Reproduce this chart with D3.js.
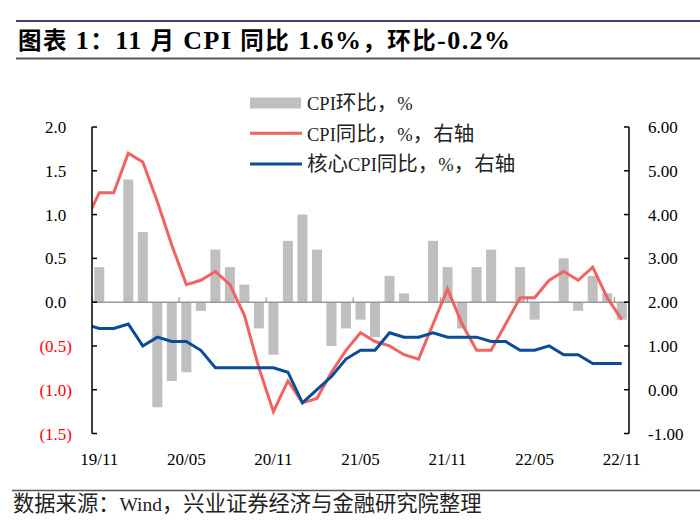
<!DOCTYPE html>
<html><head><meta charset="utf-8">
<script src="https://cdn.jsdelivr.net/npm/d3@7/dist/d3.min.js"></script>
<style>
html,body{margin:0;padding:0;background:#fff;}
svg{display:block;}
</style></head>
<body>
<svg id="c" width="700" height="520"></svg>
<script>
// Months shown on the axis (2019-11 .. 2022-11)
const months = ["19/11","19/12","20/01","20/02","20/03","20/04","20/05","20/06","20/07","20/08","20/09","20/10","20/11","20/12","21/01","21/02","21/03","21/04","21/05","21/06","21/07","21/08","21/09","21/10","21/11","21/12","22/01","22/02","22/03","22/04","22/05","22/06","22/07","22/08","22/09","22/10","22/11"];
const tickLabels = ["19/11","20/05","20/11","21/05","21/11","22/05","22/11"];
// CPI MoM (left axis), 2019-11 .. 2022-11
const cpiMoM = [0.4,0.0,1.4,0.8,-1.2,-0.9,-0.8,-0.1,0.6,0.4,0.2,-0.3,-0.6,0.7,1.0,0.6,-0.5,-0.3,-0.2,-0.4,0.3,0.1,0.0,0.7,0.4,-0.3,0.4,0.6,0.0,0.4,-0.2,0.0,0.5,-0.1,0.3,0.1,-0.2];
// CPI YoY (right axis), 2019-10 .. 2022-11 (first value is the month before the window, clipped)
const cpiYoY = [3.8,4.5,4.5,5.4,5.2,4.3,3.3,2.4,2.5,2.7,2.4,1.7,0.5,-0.5,0.2,-0.3,-0.2,0.4,0.9,1.3,1.1,1.0,0.8,0.7,1.5,2.3,1.5,0.9,0.9,1.5,2.1,2.1,2.5,2.7,2.5,2.8,2.1,1.6];
// Core CPI YoY (right axis), 2019-10 .. 2022-11
const coreYoY = [1.5,1.4,1.4,1.5,1.0,1.2,1.1,1.1,0.9,0.5,0.5,0.5,0.5,0.5,0.4,-0.3,0.0,0.3,0.7,0.9,0.9,1.3,1.2,1.2,1.3,1.2,1.2,1.2,1.1,1.1,0.9,0.9,1.0,0.8,0.8,0.6,0.6,0.6];
const leftTicks = [2.0,1.5,1.0,0.5,0.0,-0.5,-1.0,-1.5];
const rightTicks = [6,5,4,3,2,1,0,-1];
const legendLabels = ["CPI环比，%","CPI同比，%，右轴","核心CPI同比，%，右轴"];
const titleText = "图表 1：11 月 CPI 同比 1.6%，环比-0.2%";
const sourceText = "数据来源：Wind，兴业证券经济与金融研究院整理";

const LAT = "'Liberation Serif','Times New Roman',serif";
const CJK = "'Noto Sans CJK SC','Noto Sans CJK JP',sans-serif";
const svg = d3.select("#c");
const L = 92, R = 629, T = 127, B = 433.5;

// mixed-script text: CJK runs and Latin runs get their own font/size
function rich(sel, str, latSize, cjkSize){
  const parts = str.split(/([\u3000-\u9fff\uff00-\uffef]+)/).filter(s=>s.length);
  parts.forEach(p=>{
    const isC = /[\u3000-\u9fff\uff00-\uffef]/.test(p);
    sel.append("tspan").attr("font-family",isC?CJK:LAT).attr("font-size",isC?cjkSize:latSize)
      .style("white-space","pre").text(p);
  });
  return sel;
}

const x = d3.scaleLinear().domain([0, months.length]).range([L, R]);
const xc = i => x(i + 0.5);
const yL = d3.scaleLinear().domain([-1.5, 2]).range([B, T]);
const yR = d3.scaleLinear().domain([-1, 6]).range([B, T]);

// Title + rules
svg.append("line").attr("x1",16).attr("x2",700).attr("y1",21).attr("y2",21).attr("stroke","#3f3f6e").attr("stroke-width",2);
svg.append("line").attr("x1",16).attr("x2",700).attr("y1",58.5).attr("y2",58.5).attr("stroke","#555").attr("stroke-width",2);
const tt = svg.append("text").attr("x",18).attr("y",49).attr("font-weight","bold").attr("fill","#000")
  .style("white-space","pre");
rich(tt, titleText, 26, 23.5);
{ const w = tt.node().getComputedTextLength(); if (Math.abs(w-492) > 2) tt.attr("textLength",492).attr("lengthAdjust","spacing"); }

// Footer
svg.append("line").attr("x1",12).attr("x2",700).attr("y1",490.5).attr("y2",490.5).attr("stroke","#555").attr("stroke-width",1.5);
const ft = svg.append("text").attr("x",13).attr("y",511).attr("fill","#222").style("white-space","pre");
rich(ft, sourceText, 19.5, 21.3);
{ const w = ft.node().getComputedTextLength(); if (Math.abs(w-470) > 2) ft.attr("textLength",470).attr("lengthAdjust","spacing"); }

// Bars
svg.append("g").selectAll("rect").data(cpiMoM).join("rect")
  .attr("x",(d,i)=>xc(i)-5).attr("width",10)
  .attr("y",d=>Math.min(yL(d),yL(0))).attr("height",d=>Math.abs(yL(d)-yL(0)))
  .attr("fill","#bfbfbf");

// Zero line with category ticks
const zy = yL(0);
svg.append("line").attr("x1",L).attr("x2",R).attr("y1",zy).attr("y2",zy).attr("stroke","#999").attr("stroke-width",1.5);
const tickIdx = d3.range(0, months.length + 1, 6);
svg.append("g").selectAll("line").data(tickIdx).join("line")
  .attr("x1",d=>x(d)).attr("x2",d=>x(d)).attr("y1",zy).attr("y2",zy-5)
  .attr("stroke","#999").attr("stroke-width",1.2);

// Lines (clipped to plot width)
svg.append("clipPath").attr("id","clip").append("rect").attr("x",L).attr("y",0).attr("width",R-L).attr("height",520);
const lineGen = d3.line().x((d,i)=>xc(i-1)).y(d=>yR(d));
svg.append("path").datum(cpiYoY).attr("d",lineGen).attr("clip-path","url(#clip)")
  .attr("fill","none").attr("stroke","#f26262").attr("stroke-width",3).attr("stroke-linejoin","miter");
svg.append("path").datum(coreYoY).attr("d",lineGen).attr("clip-path","url(#clip)")
  .attr("fill","none").attr("stroke","#0b4c97").attr("stroke-width",3).attr("stroke-linejoin","miter");

// Left axis
const la = svg.append("g");
la.append("line").attr("x1",L).attr("x2",L).attr("y1",T).attr("y2",B).attr("stroke","#000").attr("stroke-width",1.5);
la.selectAll("line.t").data(leftTicks).join("line").attr("class","t")
  .attr("x1",L).attr("x2",L+5).attr("y1",d=>yL(d)).attr("y2",d=>yL(d)).attr("stroke","#000").attr("stroke-width",1.5);
la.selectAll("text").data(leftTicks).join("text")
  .attr("x",d=>d<0?72:66.3).attr("y",d=>yL(d)+6).attr("text-anchor","end")
  .attr("font-family",LAT).attr("font-size",17)
  .attr("fill",d=>d<0?"#ff0000":"#000")
  .text(d=>d<0?"("+Math.abs(d).toFixed(1)+")":d.toFixed(1));

// Right axis
const ra = svg.append("g");
ra.append("line").attr("x1",R).attr("x2",R).attr("y1",T).attr("y2",B).attr("stroke","#000").attr("stroke-width",1.5);
ra.selectAll("line.t").data(rightTicks).join("line").attr("class","t")
  .attr("x1",R-5).attr("x2",R).attr("y1",d=>yR(d)).attr("y2",d=>yR(d)).attr("stroke","#000").attr("stroke-width",1.5);
ra.selectAll("text").data(rightTicks).join("text")
  .attr("x",648).attr("y",d=>yR(d)+6).attr("text-anchor","start")
  .attr("font-family",LAT).attr("font-size",17).attr("fill","#000")
  .text(d=>d.toFixed(2));

// X labels
svg.append("g").selectAll("text").data(tickLabels).join("text")
  .attr("x",d=>xc(months.indexOf(d))).attr("y",465).attr("text-anchor","middle")
  .attr("font-family",LAT).attr("font-size",17).attr("fill","#000").text(d=>d);

// Legend
const lg = svg.append("g");
lg.append("rect").attr("x",250).attr("y",97.5).attr("width",51).attr("height",11).attr("fill","#bfbfbf");
lg.append("line").attr("x1",250).attr("x2",302).attr("y1",133.3).attr("y2",133.3).attr("stroke","#f26262").attr("stroke-width",3);
lg.append("line").attr("x1",250).attr("x2",302).attr("y1",164).attr("y2",164).attr("stroke","#0b4c97").attr("stroke-width",3);
legendLabels.forEach((s,i)=>{
  const t = lg.append("text").attr("x",307).attr("y",[110,140.5,171][i]).attr("fill","#222").style("white-space","pre");
  rich(t, s, 18.5, 20.5);
});
</script>
</body></html>
